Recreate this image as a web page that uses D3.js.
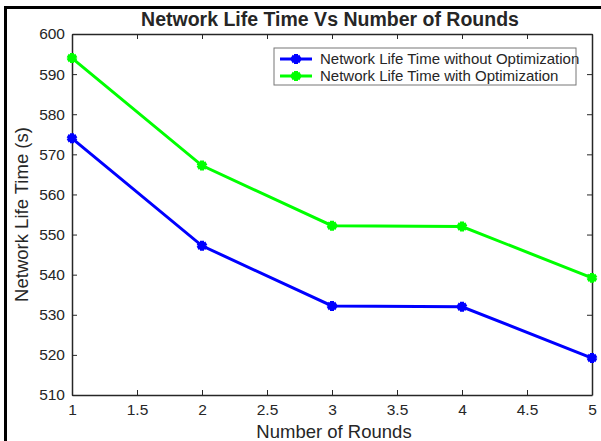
<!DOCTYPE html>
<html lang="en">
	<head>
		<meta charset="utf-8">
		<title>Network Life Time Vs Number of Rounds</title>
		<script type="text/javascript" src="https://d3js.org/d3.v7.min.js"></script>
		<style type="text/css">
			body { margin: 0; background: white; }
			text { font-family: "Liberation Sans", Arial, sans-serif; fill: #262626; }
		</style>
	</head>
	<body>
		<script type="text/javascript">

			// data
			var rounds = [1, 2, 3, 4, 5];
			var withoutOpt = [574, 547.2, 532.2, 532, 519.2];
			var withOpt = [594, 567.2, 552.2, 552, 539.2];
			var xTicks = [1, 1.5, 2, 2.5, 3, 3.5, 4, 4.5, 5];
			var yTicks = [510, 520, 530, 540, 550, 560, 570, 580, 590, 600];

			var w = 601, h = 441;
			var plotL = 72, plotR = 592, plotT = 34, plotB = 395;

			var x = d3.scaleLinear().domain([1, 5]).range([plotL, plotR]);
			var y = d3.scaleLinear().domain([510, 600]).range([plotB, plotT]);

			var svg = d3.select("body")
						.append("svg")
						.attr("width", w)
						.attr("height", h);

			//outer frame (figure edge)
			svg.append("rect")
				.attr("x", 5.5).attr("y", 7.5)
				.attr("width", 620).attr("height", 460)
				.attr("fill", "none")
				.attr("stroke", "black")
				.attr("stroke-width", 3);

			//axes on all four sides, ticks pointing in
			svg.append("g")
				.attr("transform", "translate(0," + plotB + ")")
				.call(d3.axisBottom(x).tickValues(xTicks).tickSizeInner(-5).tickSizeOuter(0).tickPadding(9).tickFormat(d3.format("")))
				.call(g => g.selectAll("text").attr("font-size", 15.5));
			svg.append("g")
				.attr("transform", "translate(0," + plotT + ")")
				.call(d3.axisTop(x).tickValues(xTicks).tickSizeInner(-5).tickSizeOuter(0).tickFormat(""));
			svg.append("g")
				.attr("transform", "translate(" + plotL + ",0)")
				.call(d3.axisLeft(y).tickValues(yTicks).tickSizeInner(-5).tickSizeOuter(0).tickPadding(7))
				.call(g => g.selectAll("text").attr("font-size", 15.5));
			svg.append("g")
				.attr("transform", "translate(" + plotR + ",0)")
				.call(d3.axisRight(y).tickValues(yTicks).tickSizeInner(-5).tickSizeOuter(0).tickFormat(""));

			svg.selectAll(".domain").attr("stroke", "#262626").attr("stroke-width", 1.5);
			svg.selectAll(".tick line").attr("stroke", "#262626");
			svg.selectAll(".tick text").attr("fill", "#262626").style("font-family", "'Liberation Sans', Arial, sans-serif");

			//lines and markers
			var series = [
				{name: "Network Life Time without Optimization", values: withoutOpt, color: "#0000ff"},
				{name: "Network Life Time with Optimization", values: withOpt, color: "#00ff00"}
			];

			var line = d3.line()
						.x(function(d, i) { return x(rounds[i]); })
						.y(function(d) { return y(d); });

			var star = d3.symbol().type(d3.symbolAsterisk).size(70);

			series.forEach(function(s) {
				svg.append("path")
					.attr("d", line(s.values))
					.attr("fill", "none")
					.attr("stroke", s.color)
					.attr("stroke-width", 3);
				svg.selectAll(null)
					.data(s.values)
					.enter()
					.append("path")
					.attr("transform", function(d, i) { return "translate(" + x(rounds[i]) + "," + y(d) + ")"; })
					.attr("d", star)
					.attr("fill", "none")
					.attr("stroke", s.color)
					.attr("stroke-width", 4);
			});

			//legend
			var lg = svg.append("g").attr("transform", "translate(274,48)");
			lg.append("rect")
				.attr("width", 302).attr("height", 37)
				.attr("fill", "white")
				.attr("stroke", "#777")
				.attr("stroke-width", 1);
			series.forEach(function(s, i) {
				var ly = 11 + i * 17;
				lg.append("line")
					.attr("x1", 6).attr("x2", 38)
					.attr("y1", ly).attr("y2", ly)
					.attr("stroke", s.color).attr("stroke-width", 3);
				lg.append("path")
					.attr("transform", "translate(22," + ly + ")")
					.attr("d", star)
					.attr("fill", "none")
					.attr("stroke", s.color).attr("stroke-width", 4);
				lg.append("text")
					.attr("x", 46).attr("y", ly + 5)
					.attr("font-size", 15)
					.text(s.name);
			});

			//title and axis labels
			svg.append("text")
				.attr("x", 330).attr("y", 26)
				.attr("text-anchor", "middle")
				.attr("font-size", 19.5)
				.attr("font-weight", "bold")
				.attr("fill", "black")
				.text("Network Life Time Vs Number of Rounds");

			svg.append("text")
				.attr("x", 334).attr("y", 438)
				.attr("text-anchor", "middle")
				.attr("font-size", 18.5)
				.text("Number of Rounds");

			svg.append("text")
				.attr("transform", "translate(28," + ((plotT + plotB) / 2) + ") rotate(-90)")
				.attr("text-anchor", "middle")
				.attr("font-size", 18.5)
				.text("Network Life Time (s)");

		</script>
	</body>
</html>
